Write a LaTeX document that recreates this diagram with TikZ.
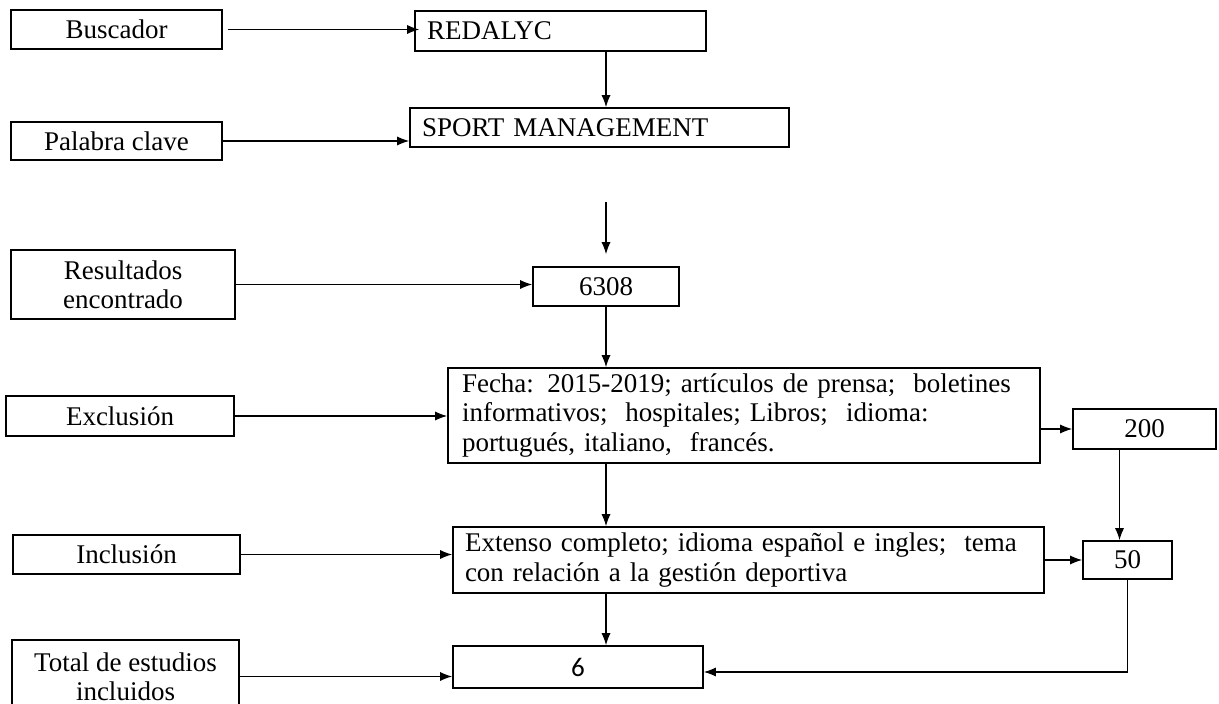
\documentclass[tikz,border=0pt]{standalone}
\usepackage{fontspec}
\setmainfont{Liberation Serif}
\newfontfamily\sixfont{Carlito}
\usepackage{tikz}
\usetikzlibrary{calc, arrows.meta}

\begin{document}
\begin{tikzpicture}[x=0.5pt, y=-0.5pt,
    font=\fontsize{13.5}{14.6}\selectfont,
    box/.style={draw, line width=0.8pt, inner sep=0pt, align=center},
    leftbox/.style={box, align=left, inner xsep=6pt},
    arr/.style={->, >={Latex[length=6pt,width=4.6pt]}, line width=0.7pt}]
        \useasboundingbox (0,0) rectangle (1219,704);

        % left column
        \node[box, minimum width=105.5pt, minimum height=19.5pt] (busc) at (116.5,29.5) {Buscador};
        \node[box, minimum width=105.5pt, minimum height=19pt] (clave) at (116.5,141) {Palabra clave};
        \node[box, minimum width=112pt, minimum height=34.5pt] (result) at (123,284.5) {Resultados\\encontrado};
        \node[box, minimum width=114pt, minimum height=20pt] (exclu) at (120,416) {Exclusión};
        \node[box, minimum width=113.5pt, minimum height=19.5pt] (inclu) at (126.5,554.5) {Inclusión};
        \node[box, minimum width=113.5pt, minimum height=36.5pt] (total) at (125.5,676.5) {Total de estudios\\incluidos};

        % middle column
        \node[leftbox, text width=133.5pt, minimum height=20pt] (redalyc) at (560.5,31) {REDALYC};
        \node[leftbox, text width=177.5pt, minimum height=19.5pt] (sport) at (599.5,127.5) {SPORT MANAGEMENT};
        \node[box, minimum width=73pt, minimum height=19.5pt] (n6308) at (606,286.5) {6308};
        \node[leftbox, inner xsep=7pt, text width=282pt, minimum height=47.5pt] (fecha) at (744,415.5)
            {Fecha: 2015-2019; artículos de prensa;\ \ boletines\\
             informativos;\ \ hospitales; Libros;\ \ idioma:\\
             portugués, italiano,\ \ francés.};
        \node[leftbox, text width=283.5pt, minimum height=33pt] (extenso) at (748.5,560)
            {Extenso completo; idioma español e ingles;\ \ tema\\
             con relación a la gestión deportiva};
        \node[box, minimum width=125pt, minimum height=21pt, font=\sixfont\fontsize{13.5}{14.6}\selectfont] (n6) at (578,667) {6};

        % right column
        \node[box, minimum width=71.5pt, minimum height=20pt] (n200) at (1144.5,429) {200};
        \node[box, minimum width=44.5pt, minimum height=19pt] (n50) at (1127.5,560) {50};

        \coordinate (gap) at (606,202);

        % connectors
        \draw[arr] ([xshift=2.5pt]busc.east) -- ([xshift=2.5pt]busc.east -| redalyc.west);
        \draw[arr] (redalyc.south -| n6308) -- (sport.north -| n6308);
        \draw[arr] (clave.east) -- (clave.east -| sport.west);
        \draw[arr, shorten >=6pt] (gap) -- (n6308.north);
        \draw[arr] (result.east) -- (result.east -| n6308.west);
        \draw[arr] (n6308.south) -- (n6308.south |- fecha.north);
        \draw[arr] (exclu.east) -- (exclu.east -| fecha.west);
        \draw[arr] (fecha.east |- n200) -- (n200.west);
        \draw[arr] ([xshift=-4pt]n50.north |- n200.south) -- ([xshift=-4pt]n50.north);
        \draw[arr] (fecha.south -| n6308) -- (extenso.north -| n6308);
        \draw[arr] (inclu.east) -- (inclu.east -| extenso.west);
        \draw[arr] (extenso.east) -- (n50.west);
        \draw[arr] (extenso.south -| n6308) -- (n6.north -| n6308);
        \draw[arr] (total.east) -- (total.east -| n6.west);
        \draw[arr] (n50.south) |- ([yshift=-2.5pt]n6.east);
    \end{tikzpicture}
\end{document}
